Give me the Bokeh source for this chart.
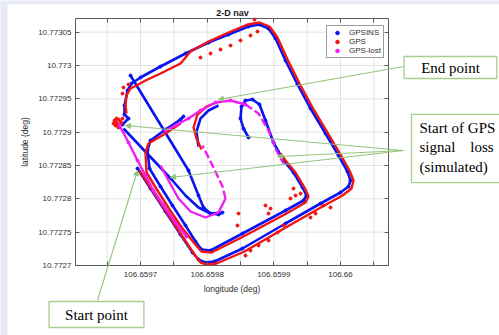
from bokeh.plotting import figure
from bokeh.models import (Range1d, FixedTicker, CustomJSTickFormatter, LinearAxis,
                          Legend, LegendItem, Label, Arrow, NormalHead, BoxAnnotation)
from bokeh.embed import file_html
from bokeh.resources import INLINE

# ---------------- data (longitude / latitude, degrees) ----------------
# GPSINS (blue)
ins_outer_lon = [106.6596955, 106.659715, 106.6597375, 106.65976, 106.659778, 106.659787, 106.659796,
                 106.659811, 106.659853, 106.6599175, 106.65997, 106.66, 106.660012, 106.660015,
                 106.6600105, 106.659997, 106.6599775, 106.659955, 106.6599355, 106.6599175,
                 106.6599025, 106.659892, 106.6598785, 106.659862, 106.659832, 106.659802,
                 106.6597675, 106.65973, 106.6597, 106.6596865, 106.6596805, 106.659676,
                 106.659676, 106.659682, 106.659673]
ins_outer_lat = [10.7728455, 10.7728155, 10.772781, 10.7727465, 10.7727195, 10.772709, 10.7727045,
                 10.772706, 10.7727255, 10.772763, 10.772793, 10.7728095, 10.7728185, 10.7728275,
                 10.772841, 10.772865, 10.772898, 10.7729355, 10.7729715, 10.7730075,
                 10.7730405, 10.7730555, 10.7730615, 10.7730585, 10.7730465, 10.7730345,
                 10.773018, 10.7729985, 10.772982, 10.772973, 10.7729625, 10.77294,
                 10.7729265, 10.7729205, 10.7729115]
ins_inner_lon = [106.6597645, 106.65976, 106.6597375, 106.659715, 106.6597105, 106.6597135,
                 106.65973, 106.659748, 106.6597675, 106.6597825, 106.6597915,
                 106.659805, 106.659853, 106.6599175, 106.6599445, 106.659949, 106.659943,
                 106.6599295, 106.6599145, 106.6598995, 106.6598875, 106.6598785, 106.659868,
                 106.6598575, 106.6598515, 106.65985, 106.6598545, 106.659862]
ins_inner_lat = [10.7729235, 10.772919, 10.772904, 10.7728875, 10.7728725, 10.7728455,
                 10.7728185, 10.77279, 10.77276, 10.772736, 10.772724,
                 10.7727225, 10.772748, 10.7727825, 10.7727975, 10.772805, 10.772817,
                 10.7728395, 10.7728575, 10.7728845, 10.7729175, 10.7729415, 10.772949,
                 10.7729475, 10.7729385, 10.7729205, 10.7729055, 10.772892]
ins_drift1_lon = [106.659685, 106.659772, 106.659787, 106.6597945, 106.659805, 106.659817, 106.659823]
ins_drift1_lat = [10.772985, 10.7728425, 10.772805, 10.772787, 10.772778, 10.7727765, 10.7727795]
ins_drift2_lon = [106.6596745, 106.6597, 106.659727, 106.659748, 106.6597675, 106.659787,
                  106.659805, 106.65982]
ins_drift2_lat = [10.7729055, 10.7728785, 10.77285, 10.7728275, 10.772805, 10.772787,
                  10.772778, 10.7727795]
ins_arc_lon = [106.659787, 106.659784, 106.65979, 106.659802, 106.659817]
ins_arc_lat = [10.7728785, 10.772901, 10.7729205, 10.7729325, 10.77294]

# GPS (red)
gps_outer_lon = [106.6596985, 106.659718, 106.6597405, 106.659763, 106.659781, 106.65979, 106.659799,
                 106.659814, 106.659856, 106.6599205, 106.659973, 106.660003, 106.6600165,
                 106.6600195, 106.6600135, 106.66, 106.6599805, 106.659958, 106.6599385,
                 106.6599205, 106.6599055, 106.6598935, 106.6598785, 106.6598605, 106.659832,
                 106.659802, 106.659775, 106.65976, 106.65973, 106.6597075, 106.659694,
                 106.659685, 106.659679, 106.6596775, 106.659679]
gps_outer_lat = [10.7728425, 10.7728125, 10.772778, 10.7727435, 10.7727165, 10.7727045, 10.7727015,
                 10.772703, 10.772721, 10.7727585, 10.7727885, 10.772805, 10.7728155,
                 10.7728275, 10.7728425, 10.7728665, 10.7728995, 10.772937, 10.772973,
                 10.773009, 10.773042, 10.7730585, 10.7730645, 10.7730615, 10.7730495,
                 10.773036, 10.773021, 10.773003, 10.772988, 10.7729775, 10.77297,
                 10.7729655, 10.772955, 10.77294, 10.772928]
gps_inner_lon = [106.65976, 106.6597375, 106.659712, 106.6597075, 106.659709,
                 106.6597255, 106.6597435, 106.659763, 106.659781, 106.6597915,
                 106.6598065, 106.6598545, 106.659919, 106.6599475, 106.659952,
                 106.659946, 106.6599325, 106.6599175, 106.65991]
gps_inner_lat = [10.772913, 10.772898, 10.772883, 10.7728695, 10.7728395,
                 10.7728125, 10.772784, 10.7727555, 10.772733, 10.772721,
                 10.7727195, 10.7727435, 10.772778, 10.7727945, 10.7728035,
                 10.772817, 10.7728395, 10.7728575, 10.772868]
gps_arc_lon = [106.6597915, 106.659784, 106.6597795, 106.6597855, 106.659799, 106.659817]
gps_arc_lat = [10.772874, 10.7728905, 10.772907, 10.7729265, 10.7729385, 10.772946]
gps_dots_lon = [106.659661, 106.659664, 106.659667, 106.65967, 106.6596625, 106.6596655, 106.6596685,
                106.6596715, 106.6596595, 106.659673, 106.659667, 106.659664,
                106.6596745, 106.659682, 106.659673,
                106.65979, 106.659805, 106.65982, 106.659835, 106.65985, 106.659865, 106.6598755,
                106.659871,
                106.659847, 106.6598455, 106.6598875, 106.659895, 106.659892, 106.659925,
                106.6599295, 106.6599325, 106.65994, 106.659955, 106.6599625, 106.6599745,
                106.659985, 106.6599145, 106.6599055, 106.659892, 106.659877, 106.659865,
                106.6598575]
gps_dots_lat = [10.7729175, 10.7729145, 10.772919, 10.772916, 10.77291, 10.7729115, 10.7729085,
                10.772913, 10.772913, 10.7729205, 10.772907, 10.7729205,
                10.772967, 10.7729715, 10.772958,
                10.773012, 10.773018, 10.773024, 10.77303, 10.7730375, 10.773045, 10.773051,
                10.773069,
                10.772778, 10.77276, 10.77279, 10.7727855, 10.772778, 10.7728005,
                10.7728155, 10.772805, 10.772808, 10.772772, 10.772778, 10.77279,
                10.772787, 10.77276, 10.7727495, 10.7727375, 10.77273, 10.7727225,
                10.772715]

# GPS-lost (magenta)
lost_diag_lon = [106.6596685, 106.659682, 106.6596955, 106.6597075, 106.6597195, 106.6597345,
                 106.6597525, 106.659769]
lost_diag_lat = [10.77291, 10.7728845, 10.7728575, 10.772835, 10.7728125, 10.77279,
                 10.7727645, 10.7727435]
lost_loop_a_lon = [106.65973, 106.659742, 106.659757, 106.659775, 106.6597975, 106.659817,
                   106.6598275]
lost_loop_a_lat = [10.77285, 10.7728275, 10.7728005, 10.772781, 10.772772, 10.7727795,
                   10.7728005]
lost_loop_b_lon = [106.6598275, 106.659823, 106.659808, 106.659793]
lost_loop_b_lat = [10.7728005, 10.7728185, 10.77285, 10.77288]
lost_arc_a_lon = [106.6597375, 106.6597525, 106.659772, 106.65979, 106.6598125, 106.659835,
                  106.6598575]
lost_arc_a_lat = [10.7729025, 10.77291, 10.7729205, 10.7729325, 10.7729445, 10.7729475,
                  10.7729415]
lost_arc_b_lon = [106.6598575, 106.659877, 106.659892, 106.659904, 106.6599145]
lost_arc_b_lat = [10.7729415, 10.772928, 10.7729025, 10.7728725, 10.772853]

# axes
x_limits = (106.6596025, 106.660072)
y_limits = (10.7727, 10.7730705)
x_tick_values = [106.6597, 106.6598, 106.6599, 106.66]
x_tick_labels = ["106.6597", "106.6598", "106.6599", "106.66"]
x_minor_values = [106.65965, 106.65975, 106.65985, 106.65995, 106.66005]
y_tick_values = [10.7727, 10.77275, 10.7728, 10.77285, 10.7729, 10.77295, 10.773, 10.77305]
y_tick_labels = ["10.7727", "10.77275", "10.7728", "10.77285", "10.7729", "10.77295", "10.773", "10.77305"]

# annotation anchors (lon, lat)
end_tip = (106.659817, 10.772949)
loss_tips = [(106.6596775, 10.77291), (106.659745, 10.772832), (106.6599055, 10.7728635)]
start_tip = (106.6596955, 10.7728425)

# ---------------- figure ----------------
BLUE, RED, MAG = "#0a14f0", "#f01414", "#f01ef0"
GREEN_LINE, GREEN_BOX = "#93c47d", "#a6cf8e"
AXC = "#5a5a5a"
FONT = "Liberation Sans"

# the canvas spans a wider lon/lat window than the axes box, so callouts can sit outside the box
p = figure(width=499, height=335, output_backend="svg", toolbar_location=None,
           x_range=Range1d(106.65949, 106.6602385), y_range=Range1d(10.772595, 10.7730975),
           min_border=0, outline_line_color=None,
           background_fill_color="#e7eaf6", border_fill_color="#e7eaf6")
p.xaxis.visible = False
p.yaxis.visible = False
p.xgrid.visible = False
p.ygrid.visible = False

p.add_layout(BoxAnnotation(left=7, right=499, bottom=0, top=331, left_units="screen",
                           right_units="screen", top_units="screen", bottom_units="screen",
                           fill_color="white", fill_alpha=1, line_color=None, level="underlay"))

def fmt(values, labels):
    return CustomJSTickFormatter(args=dict(vals=values, labs=labels), code="""
        let best = 0, bd = Infinity;
        for (let i = 0; i < vals.length; i++) { const d = Math.abs(vals[i] - tick); if (d < bd) { bd = d; best = i; } }
        return bd < 1e-7 ? labs[best] : '';
    """)

def style(ax, labels):
    ax.axis_line_color = AXC
    ax.axis_line_width = 1
    ax.major_tick_in = 4
    ax.major_tick_out = 0
    ax.minor_tick_in = 4
    ax.minor_tick_out = 0
    ax.major_tick_line_color = AXC
    ax.minor_tick_line_color = AXC
    ax.major_label_text_font = FONT
    ax.major_label_text_font_size = "8px"
    ax.major_label_text_color = "#303030"
    ax.axis_label_text_font = FONT
    ax.axis_label_text_font_size = "8.5px"
    ax.axis_label_text_font_style = "normal"
    ax.axis_label_text_color = "#303030"
    if not labels:
        ax.formatter = CustomJSTickFormatter(code="return '';")

ax_b = LinearAxis(ticker=FixedTicker(ticks=x_tick_values, minor_ticks=x_minor_values),
                  formatter=fmt(x_tick_values, x_tick_labels), fixed_location=y_limits[0],
                  bounds=x_limits, axis_label="longitude (deg)",
                  major_label_standoff=6, axis_label_standoff=4)
ax_l = LinearAxis(ticker=FixedTicker(ticks=y_tick_values, minor_ticks=[]),
                  formatter=fmt(y_tick_values, y_tick_labels), fixed_location=x_limits[0],
                  bounds=y_limits, axis_label="latitude (deg)",
                  major_label_standoff=4, axis_label_standoff=5)
ax_t = LinearAxis(ticker=FixedTicker(ticks=x_tick_values, minor_ticks=x_minor_values),
                  fixed_location=y_limits[1], bounds=x_limits)
ax_r = LinearAxis(ticker=FixedTicker(ticks=y_tick_values, minor_ticks=[]),
                  fixed_location=x_limits[1], bounds=y_limits)
style(ax_b, True)
style(ax_l, True)
style(ax_t, False)
style(ax_r, False)
p.add_layout(ax_b, "below")
p.add_layout(ax_l, "left")
p.add_layout(ax_t, "above")
p.add_layout(ax_r, "right")

# grid lines inside the axes box
gx = sorted(x_tick_values + x_minor_values)
p.segment(x0=gx, y0=[y_limits[0]] * len(gx), x1=gx, y1=[y_limits[1]] * len(gx),
          line_color="#e3e3e3", line_width=1)
gy = y_tick_values[1:]
p.segment(x0=[x_limits[0]] * len(gy), y0=gy, x1=[x_limits[1]] * len(gy), y1=gy,
          line_color="#e3e3e3", line_width=1)

# tracks
p.multi_line([ins_outer_lon, ins_inner_lon, ins_drift1_lon, ins_drift2_lon, ins_arc_lon],
             [ins_outer_lat, ins_inner_lat, ins_drift1_lat, ins_drift2_lat, ins_arc_lat],
             line_color=BLUE, line_width=2.6)
r_ins = p.scatter(ins_outer_lon + ins_inner_lon + ins_drift1_lon,
                  ins_outer_lat + ins_inner_lat + ins_drift1_lat,
                  size=3, color=BLUE)
p.multi_line([gps_outer_lon, gps_inner_lon, gps_arc_lon],
             [gps_outer_lat, gps_inner_lat, gps_arc_lat],
             line_color=RED, line_width=2.4)
r_gps = p.scatter(gps_dots_lon, gps_dots_lat, size=3, color=RED)
p.multi_line([lost_diag_lon, lost_loop_a_lon, lost_arc_a_lon],
             [lost_diag_lat, lost_loop_a_lat, lost_arc_a_lat],
             line_color=MAG, line_width=2.4)
p.multi_line([lost_loop_b_lon, lost_arc_b_lon], [lost_loop_b_lat, lost_arc_b_lat],
             line_color=MAG, line_width=2.4, line_dash="8 3")
r_lost = p.scatter(lost_diag_lon + lost_arc_a_lon, lost_diag_lat + lost_arc_a_lat, size=3, color=MAG)

legend = Legend(items=[LegendItem(label="GPSINS", renderers=[r_ins]),
                       LegendItem(label="GPS", renderers=[r_gps]),
                       LegendItem(label="GPS-lost", renderers=[r_lost])],
                location=(326, 277), margin=0, padding=2, spacing=0,
                label_text_font=FONT, label_text_font_size="8px", label_text_color="#303030",
                label_height=9, glyph_height=9, glyph_width=16, label_standoff=4,
                border_line_color="#3a3a3a", border_line_width=1,
                background_fill_color="white", background_fill_alpha=1)
p.add_layout(legend)

# title
p.add_layout(Label(x=106.659838, y=10.7730795, text="2-D nav", text_align="center",
                   text_baseline="middle", text_font=FONT, text_font_size="9px",
                   text_font_style="bold", text_color="#1a1a1a"))

# callouts
def box(x, y, text, align, top, right, bottom, left):
    lbl = Label(x=x, y=y, text=text, text_align=align, text_baseline="middle",
                text_font="Liberation Serif", text_font_size="15px", text_color="black",
                background_fill_color="white", border_line_color=GREEN_BOX, border_line_width=1.3,
                text_line_height=1.2)
    try:
        lbl.padding = dict(left=left, right=right, top=top, bottom=bottom)
    except Exception:
        lbl.padding = (top, right, bottom, left)
    return lbl

p.add_layout(box(106.660165, 10.772997, "End point", "center", 3, 17, 3, 17))
p.add_layout(box(106.6601065, 10.7728755, "Start of GPS\nsignal\u00a0\u00a0\u00a0\u00a0loss\n(simulated)",
                 "left", 6, 12, 8, 8))
p.add_layout(box(106.659634, 10.7726265, "Start point", "center", 5, 16, 5, 16))

def arrow(x0, y0, x1, y1):
    return Arrow(x_start=x0, y_start=y0, x_end=x1, y_end=y1, line_color=GREEN_LINE, line_width=1.1,
                 end=NormalHead(size=5, fill_color=GREEN_LINE, line_color=GREEN_LINE))

p.add_layout(arrow(106.6600945, 10.7729985, *end_tip))
for tip in loss_tips:
    p.add_layout(arrow(106.6600945, 10.7728725, *tip))
p.add_layout(arrow(106.6596355, 10.7726475, *start_tip))

open("out.html", "w").write(file_html(p, INLINE))
